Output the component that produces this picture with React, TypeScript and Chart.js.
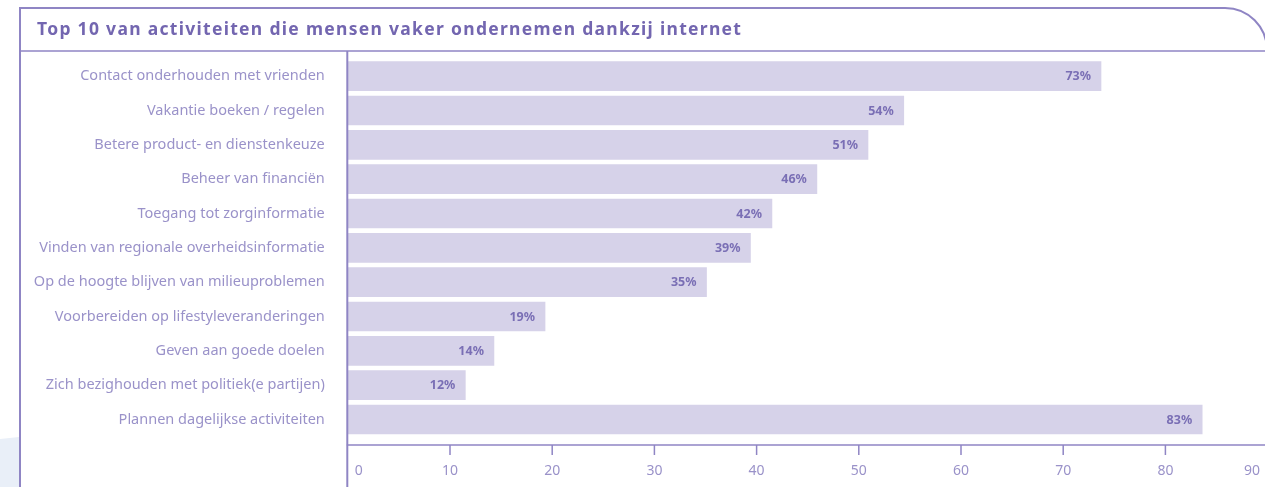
import { useEffect, useRef } from "react";
import { Chart, registerables } from "chart.js";

Chart.register(...registerables);

const chartTitle = "Top 10 van activiteiten die mensen vaker ondernemen dankzij internet";

const categories = [
  "Contact onderhouden met vrienden",
  "Vakantie boeken / regelen",
  "Betere product- en dienstenkeuze",
  "Beheer van financiën",
  "Toegang tot zorginformatie",
  "Vinden van regionale overheidsinformatie",
  "Op de hoogte blijven van milieuproblemen",
  "Voorbereiden op lifestyleveranderingen",
  "Geven aan goede doelen",
  "Zich bezighouden met politiek(e partijen)",
  "Plannen dagelijkse activiteiten",
];

// bar lengths
const values = [73.7, 54.4, 50.9, 45.9, 41.5, 39.4, 35.1, 19.3, 14.3, 11.5, 83.6];
// printed value labels
const valueLabels = ["73%", "54%", "51%", "46%", "42%", "39%", "35%", "19%", "14%", "12%", "83%"];

const xTicks = [0, 10, 20, 30, 40, 50, 60, 70, 80, 90];

const LINE = "#8f85c4";
const TITLE_COLOR = "#7366b0";
const LABEL_COLOR = "#9a92c9";
const BAR_COLOR = "#d6d2e9";
const VALUE_COLOR = "#7a6fb5";
const FONT = "'Noto Sans', 'DejaVu Sans', sans-serif";

const VISIBLE_W = 1265;
const CANVAS_W = 1280;
const CANVAS_H = 487;
const AXIS_Y = 445;

const decorPlugin = {
  id: "decor",
  beforeDraw(chart: any) {
    const ctx = chart.ctx;
    ctx.save();
    ctx.fillStyle = "#ffffff";
    ctx.fillRect(0, 0, chart.width, chart.height);

    // light blue shape bottom-left
    ctx.fillStyle = "#e9eff8";
    ctx.beginPath();
    ctx.moveTo(0, 439);
    ctx.lineTo(19, 437);
    ctx.lineTo(19, CANVAS_H);
    ctx.lineTo(0, CANVAS_H);
    ctx.closePath();
    ctx.fill();

    // frame
    ctx.strokeStyle = LINE;
    ctx.lineWidth = 2;
    const r = 42;
    const rightX = 1267;
    ctx.beginPath();
    ctx.moveTo(20, CANVAS_H + 2);
    ctx.lineTo(20, 8);
    ctx.lineTo(rightX - r, 8);
    ctx.arcTo(rightX, 8, rightX, 8 + r, r);
    ctx.lineTo(rightX, CANVAS_H + 2);
    ctx.stroke();

    // title separator
    ctx.lineWidth = 1.5;
    ctx.beginPath();
    ctx.moveTo(20, 51);
    ctx.lineTo(CANVAS_W, 51);
    ctx.stroke();

    // title
    ctx.fillStyle = TITLE_COLOR;
    ctx.font = `bold 17.5px ${FONT}`;
    ctx.textAlign = "left";
    ctx.textBaseline = "middle";
    try {
      (ctx as any).letterSpacing = "1.3px";
    } catch (e) {}
    ctx.fillText(chartTitle, 37, 30);
    ctx.restore();
  },
  afterDraw(chart: any) {
    const ctx = chart.ctx;
    const xs = chart.scales.x;
    const left = xs.getPixelForValue(0);
    ctx.save();
    ctx.strokeStyle = LINE;
    // y axis line
    ctx.lineWidth = 2;
    ctx.beginPath();
    ctx.moveTo(left - 0.5, 51);
    ctx.lineTo(left - 0.5, CANVAS_H);
    ctx.stroke();
    // x axis line
    ctx.lineWidth = 1.5;
    ctx.beginPath();
    ctx.moveTo(left - 1, AXIS_Y);
    ctx.lineTo(CANVAS_W, AXIS_Y);
    ctx.stroke();
    // ticks & labels
    ctx.fillStyle = LABEL_COLOR;
    ctx.font = `14px ${FONT}`;
    ctx.textAlign = "center";
    ctx.textBaseline = "middle";
    xTicks.forEach((t) => {
      const px = xs.getPixelForValue(t);
      if (t !== 0) {
        ctx.lineWidth = 1.5;
        ctx.beginPath();
        ctx.moveTo(px, AXIS_Y);
        ctx.lineTo(px, AXIS_Y + 10);
        ctx.stroke();
      }
      const lx = Math.min(Math.max(px, left + 11), VISIBLE_W - 13);
      ctx.fillText(String(t), lx, 471);
    });
    ctx.restore();
  },
  afterDatasetsDraw(chart: any) {
    const ctx = chart.ctx;
    const meta = chart.getDatasetMeta(0);
    ctx.save();
    ctx.fillStyle = VALUE_COLOR;
    ctx.font = `bold 12.5px ${FONT}`;
    ctx.textAlign = "right";
    ctx.textBaseline = "middle";
    meta.data.forEach((bar: any, i: number) => {
      ctx.fillText(valueLabels[i], bar.x - 10, bar.y + 0.5);
    });
    ctx.restore();
  },
};

export default function App() {
  const ref = useRef<HTMLCanvasElement | null>(null);

  useEffect(() => {
    if (!ref.current) return;
    const chart = new Chart(ref.current, {
      type: "bar",
      data: {
        labels: categories,
        datasets: [
          {
            data: values,
            backgroundColor: BAR_COLOR,
            borderWidth: 0,
            barThickness: 29,
          },
        ],
      },
      options: {
        indexAxis: "y",
        responsive: false,
        animation: false,
        devicePixelRatio: 1,
        layout: {
          padding: { left: 0, right: CANVAS_W - 1267.6, top: 59, bottom: CANVAS_H - 436.7 },
        },
        plugins: {
          legend: { display: false },
          tooltip: { enabled: false },
          title: { display: false },
        },
        scales: {
          x: {
            type: "linear",
            min: 0,
            max: 90,
            display: false,
          },
          y: {
            type: "category",
            grid: { display: false, drawTicks: false },
            border: { display: false },
            ticks: {
              color: LABEL_COLOR,
              font: { family: FONT, size: 14.5 },
              padding: 23,
              autoSkip: false,
            },
            afterFit: (scale: any) => {
              scale.width = 347.8;
            },
          },
        },
      },
      plugins: [decorPlugin],
    });
    return () => chart.destroy();
  }, []);

  return (
    <div
      style={{
        position: "absolute",
        left: 0,
        top: 0,
        width: VISIBLE_W,
        height: CANVAS_H,
        overflow: "hidden",
        background: "#fff",
      }}
    >
      <canvas
        ref={ref}
        width={CANVAS_W}
        height={CANVAS_H}
        style={{ width: CANVAS_W, height: CANVAS_H, display: "block" }}
      />
    </div>
  );
}
